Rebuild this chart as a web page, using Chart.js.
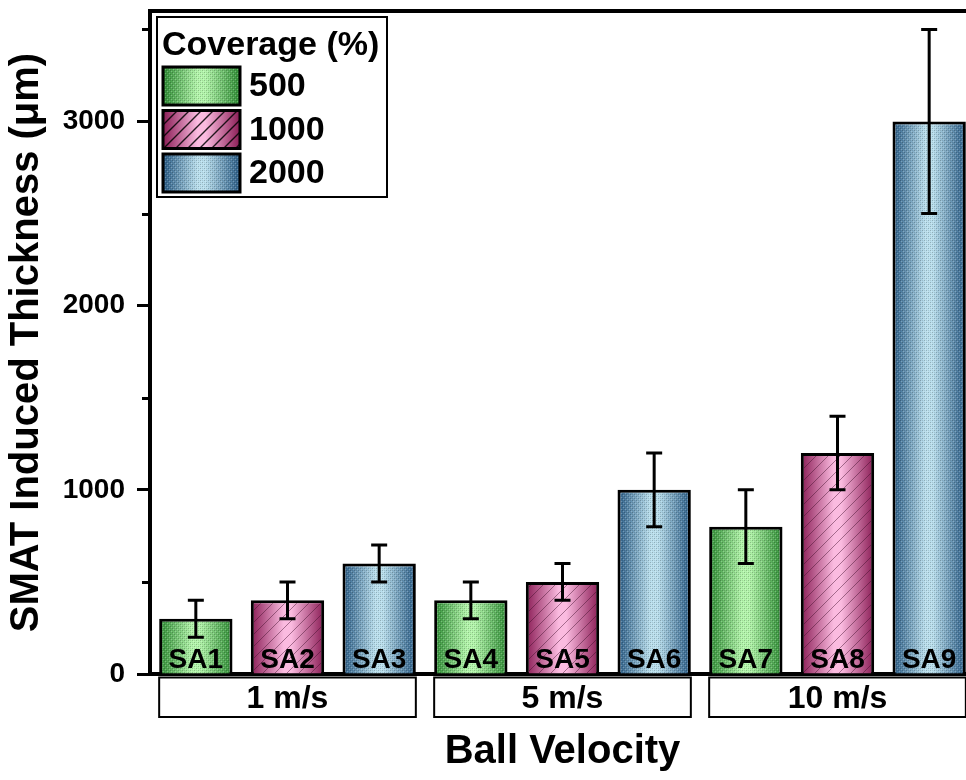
<!DOCTYPE html>
<html>
<head>
<meta charset="utf-8">
<script src="https://cdn.jsdelivr.net/npm/chart.js@4.4.0/dist/chart.umd.min.js"></script>
<style>
  html, body { margin: 0; padding: 0; background: #fff; overflow: hidden; }
  #wrap { width: 990px; height: 780px; }
</style>
</head>
<body>
<div id="wrap"><canvas id="chart" width="990" height="780"></canvas></div>
<script>
const FONT = "'Liberation Sans', Arial, Helvetica, sans-serif";

// Samples along the x axis and the velocity group each block of three belongs to
const samples = ['SA1', 'SA2', 'SA3', 'SA4', 'SA5', 'SA6', 'SA7', 'SA8', 'SA9'];
const velocities = ['1 m/s', '5 m/s', '10 m/s'];

// Coverage series (legend entries)
const coverageTitle = 'Coverage (%)';
const coverages = ['500', '1000', '2000'];

// Induced thickness (µm) per sample, one array per coverage
const thickness500  = [300, null, null, 400, null, null, 800, null, null];
const thickness1000 = [null, 400, null, null, 500, null, null, 1200, null];
const thickness2000 = [null, null, 600, null, null, 1000, null, null, 3000];

// Error bar half-ranges (µm)
const error500  = [100, null, null, 100, null, null, 200, null, null];
const error1000 = [null, 100, null, null, 100, null, null, 200, null];
const error2000 = [null, null, 100, null, null, 200, null, null, 500];

// Y axis ticks: labelled every 1000, minor marks in between
const yTicks = [0, 500, 1000, 1500, 2000, 2500, 3000, 3500];
const yLabelled = [0, 1000, 2000, 3000];
const yMax = 3600;

const series = [thickness500, thickness1000, thickness2000];
const errors = [error500, error1000, error2000];

const palettes = [
  { edge: '#2e8c34', light: '#b3f5ab', texture: 'dots' },
  { edge: '#8a1c55', light: '#fbbbe0', texture: 'hatch' },
  { edge: '#2a5c86', light: '#badfed', texture: 'dots' }
];
const BAR_BORDER = 3;
const BAR_FRACTION = 0.8;

function shade(ctx, x0, x1, pal) {
  const g = ctx.createLinearGradient(x0, 0, x1, 0);
  g.addColorStop(0, pal.edge);
  g.addColorStop(0.45, pal.light);
  g.addColorStop(0.55, pal.light);
  g.addColorStop(1, pal.edge);
  return g;
}

function barFill(di) {
  return (context) => {
    const chart = context.chart;
    const xs = chart.scales && chart.scales.x;
    const pal = palettes[di];
    if (!xs || context.dataIndex === undefined) return pal.light;
    const cx = xs.getPixelForValue(context.dataIndex);
    const half = xs.width / samples.length * BAR_FRACTION / 2;
    if (!isFinite(cx) || !(half > 0)) return pal.light;
    return shade(chart.ctx, cx - half, cx + half, pal);
  };
}

function dotPattern(ctx) {
  const p = document.createElement('canvas');
  p.width = 4; p.height = 4;
  const q = p.getContext('2d');
  q.fillStyle = 'rgba(0,0,0,0.22)';
  q.fillRect(0, 0, 1, 1); q.fillRect(2, 2, 1, 1);
  q.fillStyle = 'rgba(0,0,0,0.10)';
  q.fillRect(2, 0, 1, 1); q.fillRect(0, 2, 1, 1);
  q.fillStyle = 'rgba(255,255,255,0.25)';
  q.fillRect(1, 1, 1, 1); q.fillRect(3, 3, 1, 1);
  return ctx.createPattern(p, 'repeat');
}

function hatchPattern(ctx, step, color, lw) {
  const p = document.createElement('canvas');
  p.width = step; p.height = step;
  const q = p.getContext('2d');
  q.strokeStyle = color; q.lineWidth = lw;
  q.beginPath();
  q.moveTo(-2, step + 2); q.lineTo(step + 2, -2);
  q.moveTo(-2, 2); q.lineTo(2, -2);
  q.moveTo(step - 2, step + 2); q.lineTo(step + 2, step - 2);
  q.stroke();
  return ctx.createPattern(p, 'repeat');
}

function texture(ctx, kind, legend) {
  if (kind === 'hatch') {
    return legend ? hatchPattern(ctx, 12, 'rgba(0,0,0,0.85)', 1.4)
                  : hatchPattern(ctx, 12, 'rgba(60,10,40,0.45)', 1);
  }
  return dotPattern(ctx);
}

// Dot / hatch texture over each bar's fill, inside its border
const barTexture = {
  id: 'barTexture',
  afterDatasetsDraw(chart) {
    const ctx = chart.ctx;
    chart.data.datasets.forEach((ds, di) => {
      const meta = chart.getDatasetMeta(di);
      const pat = texture(ctx, palettes[di].texture, false);
      meta.data.forEach((el, i) => {
        if (ds.data[i] == null) return;
        const { x, y, base, width } = el.getProps(['x', 'y', 'base', 'width'], true);
        const b = ds.borderWidth;
        ctx.save();
        ctx.beginPath();
        ctx.rect(x - width / 2 + b, y + b, width - 2 * b, base - y - b);
        ctx.clip();
        ctx.fillStyle = pat;
        ctx.fillRect(x - width / 2, y, width, base - y);
        ctx.restore();
      });
    });
  }
};

// Error bars and the sample names written at the foot of each bar
const barAnnotations = {
  id: 'barAnnotations',
  afterDatasetsDraw(chart) {
    const ctx = chart.ctx;
    const ys = chart.scales.y;
    ctx.save();
    chart.data.datasets.forEach((ds, di) => {
      const meta = chart.getDatasetMeta(di);
      meta.data.forEach((el, i) => {
        const v = ds.data[i];
        if (v == null) return;
        const e = ds.errorBars[i];
        const x = el.x;
        const top = ys.getPixelForValue(v + e);
        const bot = ys.getPixelForValue(v - e);
        ctx.strokeStyle = '#000';
        ctx.lineWidth = 3;
        ctx.lineCap = 'butt';
        ctx.beginPath();
        ctx.moveTo(x, top); ctx.lineTo(x, bot);
        ctx.moveTo(x - 8, top); ctx.lineTo(x + 8, top);
        ctx.moveTo(x - 8, bot); ctx.lineTo(x + 8, bot);
        ctx.stroke();
      });
    });
    ctx.fillStyle = '#000';
    ctx.font = 'bold 28px ' + FONT;
    ctx.textAlign = 'center';
    ctx.textBaseline = 'alphabetic';
    const xs = chart.scales.x;
    samples.forEach((s, i) => {
      ctx.fillText(s, xs.getPixelForValue(i), chart.chartArea.bottom - 6);
    });
    ctx.restore();
  }
};

// Frame, minor ticks, velocity group boxes and the boxed legend
const frameAndGroups = {
  id: 'frameAndGroups',
  afterDraw(chart) {
    const ctx = chart.ctx;
    const a = chart.chartArea;
    const xs = chart.scales.x;
    const ys = chart.scales.y;
    ctx.save();
    ctx.strokeStyle = '#000';

    // top / right frame lines
    ctx.lineWidth = 4;
    ctx.beginPath();
    ctx.moveTo(a.left - 2, a.top);
    ctx.lineTo(a.right, a.top);
    ctx.lineTo(a.right, a.bottom);
    ctx.stroke();

    // minor ticks
    ctx.lineWidth = 3;
    ctx.beginPath();
    yTicks.filter(v => !yLabelled.includes(v)).forEach(v => {
      const py = Math.round(ys.getPixelForValue(v)) + 0.5;
      ctx.moveTo(a.left - 8, py); ctx.lineTo(a.left, py);
    });
    ctx.stroke();

    // velocity group boxes under the axis
    const half = xs.width / samples.length * BAR_FRACTION / 2;
    const bTop = a.bottom + 3.5, bBot = a.bottom + 43;
    ctx.lineWidth = 2;
    ctx.font = 'bold 32px ' + FONT;
    ctx.fillStyle = '#000';
    ctx.textAlign = 'center';
    ctx.textBaseline = 'middle';
    velocities.forEach((label, g) => {
      const l = xs.getPixelForValue(g * 3) - half;
      const r = xs.getPixelForValue(g * 3 + 2) + half;
      ctx.strokeRect(l, bTop, r - l, bBot - bTop);
      ctx.fillText(label, (l + r) / 2, (bTop + bBot) / 2 + 2);
    });

    // legend
    const lx = a.left + 7, ly = a.top + 6, lw = 230, lh = 180;
    ctx.fillStyle = '#fff';
    ctx.fillRect(lx, ly, lw, lh);
    ctx.lineWidth = 2;
    ctx.strokeRect(lx, ly, lw, lh);
    ctx.fillStyle = '#000';
    ctx.textAlign = 'left';
    ctx.textBaseline = 'alphabetic';
    ctx.font = 'bold 34px ' + FONT;
    ctx.fillText(coverageTitle, lx + 5, ly + 38);
    coverages.forEach((label, i) => {
      const sx = lx + 6, sy = ly + 50 + i * 43.5, sw = 77, sh = 38;
      const pal = palettes[i];
      ctx.fillStyle = shade(ctx, sx, sx + sw, pal);
      ctx.fillRect(sx, sy, sw, sh);
      ctx.fillStyle = texture(ctx, pal.texture, true);
      ctx.fillRect(sx, sy, sw, sh);
      ctx.lineWidth = 3;
      ctx.strokeRect(sx, sy, sw, sh);
      ctx.fillStyle = '#000';
      ctx.textBaseline = 'middle';
      ctx.fillText(label, sx + sw + 9, sy + sh / 2 + 1);
    });
    ctx.restore();
  }
};

new Chart(document.getElementById('chart'), {
  type: 'bar',
  data: {
    labels: samples,
    datasets: coverages.map((label, di) => ({
      label,
      data: series[di],
      errorBars: errors[di],
      backgroundColor: barFill(di),
      borderColor: '#000',
      borderWidth: BAR_BORDER,
      grouped: false,
      categoryPercentage: 1,
      barPercentage: BAR_FRACTION
    }))
  },
  options: {
    responsive: false,
    devicePixelRatio: 1,
    animation: false,
    layout: { padding: { left: 0, top: 11, right: 15, bottom: 0 } },
    plugins: { legend: { display: false }, tooltip: { enabled: false } },
    scales: {
      x: {
        type: 'category',
        z: 1,
        offset: true,
        ticks: { display: false },
        grid: { display: true, drawOnChartArea: false, drawTicks: false },
        border: { display: true, color: '#000', width: 4 },
        title: {
          display: true,
          text: 'Ball Velocity',
          color: '#000',
          font: { family: FONT, size: 40, weight: 'bold' },
          padding: { top: 0, bottom: 4 }
        },
        afterFit(scale) { scale.height = 106; scale.paddingLeft = 0; scale.paddingRight = 0; }
      },
      y: {
        min: 0,
        max: yMax,
        afterBuildTicks(scale) { scale.ticks = yTicks.map(v => ({ value: v })); },
        ticks: {
          autoSkip: false,
          color: '#000',
          padding: 12,
          font: { family: FONT, size: 28, weight: 'bold' },
          callback: (v) => yLabelled.includes(v) ? String(v) : ''
        },
        grid: {
          drawOnChartArea: false,
          drawTicks: true,
          tickLength: 13,
          tickWidth: 3,
          tickColor: (c) => (c.tick && yLabelled.includes(c.tick.value)) ? '#000' : 'rgba(0,0,0,0)'
        },
        border: { display: true, color: '#000', width: 4 },
        title: {
          display: true,
          text: 'SMAT Induced Thickness (μm)',
          color: '#000',
          font: { family: FONT, size: 40, weight: 'bold' },
          padding: { top: 3, bottom: 0 }
        },
        afterFit(scale) { scale.width = 150; scale.paddingTop = 0; scale.paddingBottom = 0; }
      }
    }
  },
  plugins: [barTexture, barAnnotations, frameAndGroups]
});
</script>
</body>
</html>
